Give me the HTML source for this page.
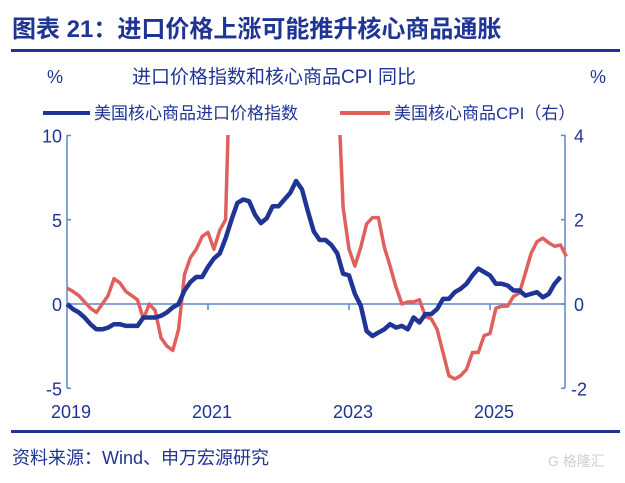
<!DOCTYPE html>
<html><head><meta charset="utf-8"><style>
body{margin:0;background:#fff;width:625px;height:478px;overflow:hidden;font-family:"Liberation Sans","Noto Sans CJK SC",sans-serif}
</style></head><body>
<svg width="625" height="478" xmlns="http://www.w3.org/2000/svg">
<text x="12" y="37" font-size="24" font-weight="bold" fill="#1f3494" font-family="Liberation Sans,Noto Sans CJK SC,sans-serif">图表 21：进口价格上涨可能推升核心商品通胀</text>
<rect x="11" y="49" width="609" height="3" fill="#1f3494"/>
<text x="55" y="83" font-size="18" fill="#1f3494" text-anchor="middle">%</text>
<text x="132" y="83" font-size="19" fill="#1f3494" font-family="Liberation Sans,Noto Sans CJK SC,sans-serif">进口价格指数和核心商品CPI 同比</text>
<text x="598" y="83" font-size="18" fill="#1f3494" text-anchor="middle">%</text>
<g>
<line x1="43" y1="113" x2="90" y2="113" stroke="#1f3494" stroke-width="4"/>
<text x="94" y="119" font-size="17" fill="#1f3494" font-family="Liberation Sans,Noto Sans CJK SC,sans-serif">美国核心商品进口价格指数</text>
<line x1="340" y1="113" x2="390" y2="113" stroke="#e0605e" stroke-width="4"/>
<text x="394" y="119" font-size="17" fill="#1f3494" font-family="Liberation Sans,Noto Sans CJK SC,sans-serif">美国核心商品CPI（右）</text>
</g>
<g id="axes"></g>
<defs><clipPath id="pc"><rect x="60" y="135" width="510" height="260"/></clipPath></defs>
<g id="plot" clip-path="url(#pc)"></g>
<rect x="11" y="430" width="609" height="3" fill="#1f3494"/>
<text x="12" y="464" font-size="18" fill="#1f3494" font-family="Liberation Sans,Noto Sans CJK SC,sans-serif">资料来源：Wind、申万宏源研究</text>
<text x="548" y="466" font-size="14" fill="#cfcfcf" font-family="Liberation Sans,Noto Sans CJK SC,sans-serif">G 格隆汇</text>
</svg>
<script>
const yearLabels=["2019","2021","2023","2025"];
const leftTicks=[10,5,0,-5];
const rightTicks=[4,2,0,-2];
const importIdx=[0,-0.3,-0.5,-0.8,-1.2,-1.5,-1.5,-1.4,-1.2,-1.2,-1.3,-1.3,-1.3,-0.8,-0.8,-0.8,-0.7,-0.5,-0.2,0,0.8,1.3,1.6,1.6,2.2,2.7,3.0,3.9,5.0,6.0,6.2,6.1,5.3,4.8,5.1,5.8,5.8,6.2,6.6,7.3,6.8,5.5,4.3,3.8,3.8,3.5,3.0,1.8,1.7,0.6,-0.1,-1.6,-1.9,-1.7,-1.5,-1.2,-1.4,-1.3,-1.5,-0.8,-1.1,-0.6,-0.6,-0.3,0.3,0.3,0.7,0.9,1.2,1.7,2.1,1.9,1.7,1.2,1.2,1.1,0.8,0.8,0.5,0.6,0.7,0.4,0.6,1.2,1.6];
const coreCpi=[0.38,0.3,0.2,0.05,-0.1,-0.2,0,0.2,0.6,0.5,0.3,0.2,0.1,-0.35,0,-0.15,-0.8,-1.0,-1.1,-0.6,0.7,1.1,1.3,1.6,1.7,1.3,1.75,2.0,7,7,7,7,7,7,7,7,7,7,7,7,7,7,7,7,7,7,5.5,2.3,1.3,0.9,1.35,1.9,2.05,2.05,1.35,0.9,0.4,0,0.05,0.05,0.1,-0.3,-0.35,-0.6,-1.15,-1.7,-1.78,-1.7,-1.55,-1.15,-1.15,-0.75,-0.7,-0.1,-0.05,-0.05,0.18,0.26,0.73,1.2,1.48,1.56,1.45,1.37,1.4,1.13];
const NS="http://www.w3.org/2000/svg";
const X0=67,X1=565,MW=5.875;
const xm=m=>X0+m*MW;
const yL=v=>304-v*16.85;
const yR=v=>304-v*42.15;
const ax=document.getElementById('axes'),pl=document.getElementById('plot');
function mk(t,a,p){const e=document.createElementNS(NS,t);for(const k in a)e.setAttribute(k,a[k]);p.appendChild(e);return e;}
const AC="#5b87c9",TC="#1f3494";
let e;
e=mk('line',{x1:X0,y1:135,x2:X0,y2:388,stroke:AC,'stroke-width':1.5},ax);


e=mk('line',{x1:X1,y1:135,x2:X1,y2:388,stroke:AC,'stroke-width':1.5},ax);


e=mk('line',{x1:X0,y1:yL(0),x2:X1,y2:yL(0),stroke:AC,'stroke-width':1.5},ax);


leftTicks.forEach(v=>{
 mk('line',{x1:X0,y1:yL(v),x2:X0+4,y2:yL(v),stroke:AC,'stroke-width':1.5},ax);
 e=mk('text',{x:X0-5,y:yL(v)+7,'font-size':18,fill:TC,'text-anchor':'end'},ax);e.textContent=v;
 
 
});
rightTicks.forEach(v=>{
 mk('line',{x1:X1-4,y1:yR(v),x2:X1,y2:yR(v),stroke:AC,'stroke-width':1.5},ax);
 e=mk('text',{x:X1+14,y:yR(v)+7,'font-size':18,fill:TC,'text-anchor':'middle'},ax);e.textContent=v;
 
 
});
yearLabels.forEach((t,i)=>{
 const x=xm(i*24);
 if(i>0)mk('line',{x1:x,y1:yL(0),x2:x,y2:yL(0)+6,stroke:AC,'stroke-width':1.5},ax);
 e=mk('text',{x:x+4,y:418,'font-size':18,fill:TC,'text-anchor':'middle'},ax);e.textContent=t;
 
 
});
function line(arr,yf,col,w,name){
 const d=arr.map((v,i)=>(i?'L':'M')+xm(i).toFixed(1)+','+yf(v).toFixed(1)).join('');
 const p=mk('path',{d:d,fill:'none',stroke:col,'stroke-width':w,'stroke-linejoin':'round'},pl);
 
 
}
line(coreCpi,yR,"#e0605e",3.5,'core-cpi-line');
line(importIdx,yL,"#1f3494",4.5,'import-price-line');
</script>
</body></html>
